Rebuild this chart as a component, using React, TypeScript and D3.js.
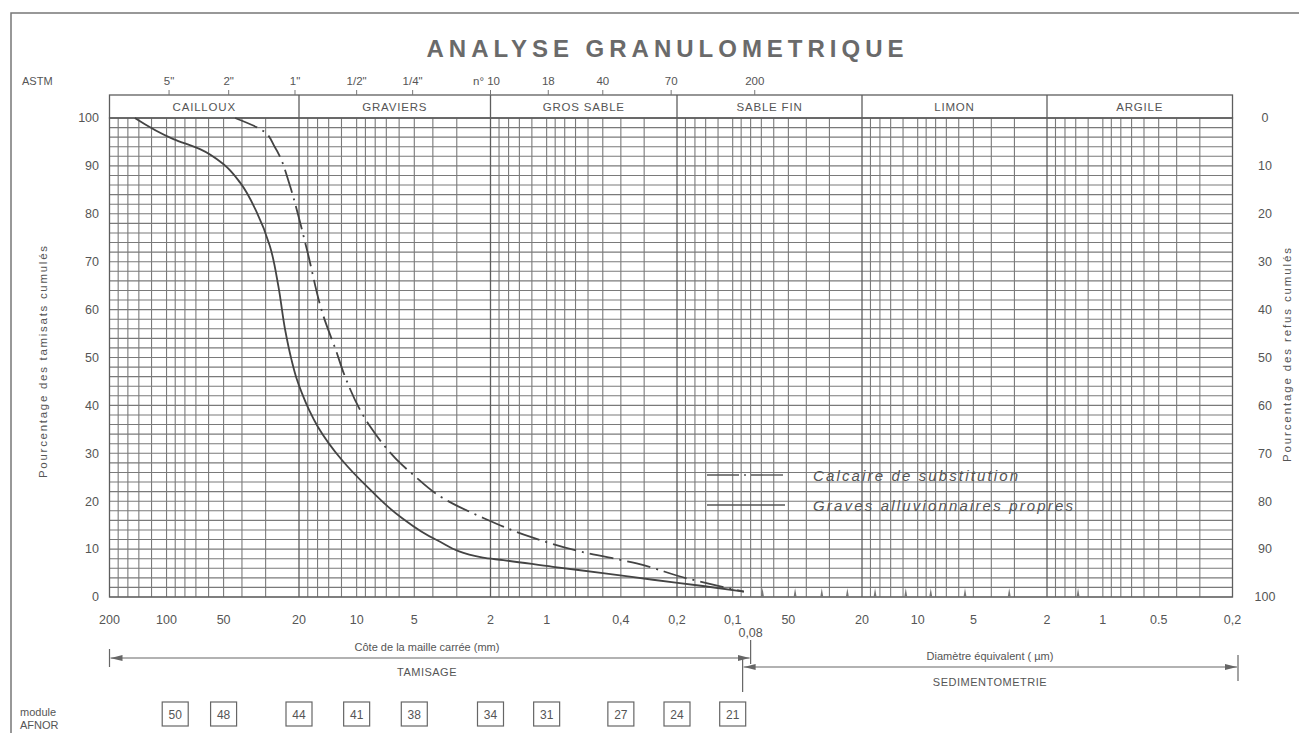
import React, { useEffect, useRef } from 'react';
import * as d3 from 'd3';

// decade boundaries of the log paper, in mm (200 mm down to 0,2 µm)
const decades = [200, 20, 2, 0.2, 0.02, 0.002, 0.0002];
const gridMantissa = [1, 1.2, 1.4, 1.6, 1.8, 2, 3, 4, 5, 6, 7, 8, 9];

const classes = ['CAILLOUX', 'GRAVIERS', 'GROS SABLE', 'SABLE FIN', 'LIMON', 'ARGILE'];

const astmLabels = ['5"', '2"', '1"', '1/2"', '1/4"', 'n° 10', '18', '40', '70', '200'];
const astmMm = [97, 47, 21, 10, 5.1, 2, 0.98, 0.5, 0.215, 0.076];

const sieveMm = [200, 100, 50, 20, 10, 5, 2, 1, 0.4, 0.2, 0.1];
const sieveLabels = ['200', '100', '50', '20', '10', '5', '2', '1', '0,4', '0,2', '0,1'];
const sedUm = [50, 20, 10, 5, 2, 1, 0.5, 0.2];
const sedLabels = ['50', '20', '10', '5', '2', '1', '0.5', '0,2'];

const percentTicks = [0, 10, 20, 30, 40, 50, 60, 70, 80, 90, 100];

const afnorModules = ['50', '48', '44', '41', '38', '34', '31', '27', '24', '21'];
const afnorMm = [90, 50, 20, 10, 5, 2, 1, 0.4, 0.2, 0.1];

// small reading marks along the bottom of the sedimentometry range (µm)
const sedMarksUm = [69, 46, 33, 24, 17, 11.6, 8.5, 5.55, 3.2, 1.36];

// Graves alluvionnaires propres (solid)
const gravesMm = [147, 92, 66.6, 50.2, 40.9, 33.4, 28.5, 25.7, 23.7, 21.9, 20.74, 19.29, 17.7, 15.92, 12, 8.5, 5.94, 3.82, 2.19, 1.71, 0.925, 0.5, 0.269, 0.145, 0.087];
const gravesPct = [100, 95.6, 93.5, 90.4, 86.5, 80.3, 73.3, 64.9, 55.9, 49.5, 46, 42.5, 39, 35.5, 28.7, 22.4, 16.8, 11.9, 8.2, 7.7, 6.3, 5, 3.6, 2.3, 1.1];

// Calcaire de substitution (dash-dot)
const calcaireMm = [43.5, 30.9, 26.8, 22.3, 20.6, 18.2, 14.9, 12.7, 11.7, 8.5, 6.18, 5.06, 3.53, 2.18, 1.23, 0.662, 0.329, 0.177, 0.087];
const calcairePct = [100, 97.3, 93.9, 85.8, 81, 72.6, 58.6, 51, 46.8, 35.6, 28.7, 25.5, 20.6, 16.5, 12.6, 9.5, 7, 3.9, 1.1];

const FONT = '"Liberation Sans", Arial, sans-serif';
const INK = '#555';
const GRID = '#7a7a7a';

export default function App() {
  const ref = useRef<SVGSVGElement>(null);

  useEffect(() => {
    const svg = d3.select(ref.current);
    svg.selectAll('*').remove();

    const x = d3.scaleLog().domain(decades).range([109.5, 299, 490.5, 677, 862, 1047, 1232.5]);
    const y = d3.scaleLinear().domain([0, 100]).range([597, 118]);
    const yRefus = d3.scaleLinear().domain([100, 0]).range([597, 118]);
    const [x0, x1] = [x(200), x(0.0002)];
    const headTop = 95;

    const defs = svg.append('defs');
    defs.append('marker').attr('id', 'arr').attr('viewBox', '0 0 12 6')
      .attr('refX', 12).attr('refY', 3).attr('markerWidth', 12).attr('markerHeight', 6)
      .attr('markerUnits', 'userSpaceOnUse').attr('orient', 'auto-start-reverse')
      .append('path').attr('d', 'M0,0L12,3L0,6Z').attr('fill', '#666');

    // outer frame of the sheet
    svg.append('path').attr('d', 'M11,733V13H1299').attr('fill', 'none').attr('stroke', '#777').attr('stroke-width', 1.5);

    // title
    svg.append('text').attr('x', 665).attr('y', 57).attr('text-anchor', 'middle')
      .attr('font-family', FONT).attr('font-size', 24).attr('font-weight', 'bold')
      .attr('fill', '#6a6a6a').attr('textLength', 477).attr('lengthAdjust', 'spacing')
      .text('ANALYSE GRANULOMETRIQUE');

    // grid
    const grid = svg.append('g').attr('stroke', GRID).attr('stroke-width', 1.1);
    d3.range(0, 101, 2).forEach((p) => {
      grid.append('line').attr('x1', x0).attr('x2', x1).attr('y1', y(p)).attr('y2', y(p));
    });
    const vLines: number[] = [];
    d3.range(-4, 3).forEach((k) => {
      gridMantissa.forEach((m) => {
        const v = +(m * Math.pow(10, k)).toPrecision(6);
        if (v >= 0.0002 && v <= 200 && !decades.includes(v)) vLines.push(v);
      });
    });
    vLines.forEach((v) => {
      grid.append('line').attr('x1', x(v)).attr('x2', x(v)).attr('y1', y(100)).attr('y2', y(0));
    });

    // header band with soil classes
    const head = svg.append('g').attr('stroke', '#5e5e5e').attr('stroke-width', 1.3).attr('fill', 'none');
    head.append('rect').attr('x', x0).attr('y', headTop).attr('width', x1 - x0).attr('height', y(100) - headTop);
    decades.slice(1, -1).forEach((d) => {
      head.append('line').attr('x1', x(d)).attr('x2', x(d)).attr('y1', headTop).attr('y2', y(0));
    });
    head.append('rect').attr('x', x0).attr('y', y(100)).attr('width', x1 - x0).attr('height', y(0) - y(100));
    classes.forEach((c, i) => {
      svg.append('text').attr('x', (x(decades[i]) + x(decades[i + 1])) / 2).attr('y', 111)
        .attr('text-anchor', 'middle').attr('font-family', FONT).attr('font-size', 11.5)
        .attr('letter-spacing', 0.8).attr('fill', INK).text(c);
    });

    // ASTM sieves
    svg.append('text').attr('x', 22).attr('y', 85).attr('font-family', FONT).attr('font-size', 11)
      .attr('fill', INK).text('ASTM');
    astmMm.forEach((v, i) => {
      svg.append('line').attr('x1', x(v)).attr('x2', x(v)).attr('y1', 90).attr('y2', headTop)
        .attr('stroke', '#777');
      svg.append('text').attr('x', x(v) - (i === 5 ? 4 : 0)).attr('y', 85).attr('text-anchor', 'middle')
        .attr('font-family', FONT).attr('font-size', 11.5).attr('fill', INK).text(astmLabels[i]);
    });

    // percentage axes
    percentTicks.forEach((p) => {
      svg.append('text').attr('x', 99).attr('y', y(p)).attr('dy', '0.35em').attr('text-anchor', 'end')
        .attr('font-family', FONT).attr('font-size', 12.5).attr('fill', INK).text(p);
      svg.append('text').attr('x', 1265).attr('y', yRefus(p)).attr('dy', '0.35em').attr('text-anchor', 'middle')
        .attr('font-family', FONT).attr('font-size', 12.5).attr('fill', INK).text(p);
    });
    svg.append('text').attr('transform', 'translate(47,362) rotate(-90)').attr('text-anchor', 'middle')
      .attr('font-family', FONT).attr('font-size', 11.5).attr('fill', INK)
      .attr('textLength', 232).attr('lengthAdjust', 'spacing').text('Pourcentage des tamisats cumulés');
    svg.append('text').attr('transform', 'translate(1291,355) rotate(-90)').attr('text-anchor', 'middle')
      .attr('font-family', FONT).attr('font-size', 11.5).attr('fill', INK)
      .attr('textLength', 214).attr('lengthAdjust', 'spacing').text('Pourcentage des refus cumulés');

    // size axis
    sieveMm.forEach((v, i) => {
      svg.append('text').attr('x', x(v)).attr('y', 624).attr('text-anchor', 'middle')
        .attr('font-family', FONT).attr('font-size', 12.5).attr('fill', INK).text(sieveLabels[i]);
    });
    sedUm.forEach((v, i) => {
      svg.append('text').attr('x', x(v / 1000)).attr('y', 624).attr('text-anchor', 'middle')
        .attr('font-family', FONT).attr('font-size', 12.5).attr('fill', INK).text(sedLabels[i]);
    });
    svg.append('text').attr('x', x(0.08)).attr('y', 637).attr('text-anchor', 'middle')
      .attr('font-family', FONT).attr('font-size', 12.5).attr('fill', INK).text('0,08');

    // sedimentometry reading marks
    sedMarksUm.forEach((v) => {
      const px = x(v / 1000);
      svg.append('path').attr('d', `M${px - 1.5},${y(0)}L${px},${y(0) - 9}L${px + 1.5},${y(0)}Z`).attr('fill', '#777');
    });

    // tamisage / sedimentometrie arrows
    const xs = x(0.08);
    const xsed = xs - 8;
    const bottom = svg.append('g').attr('stroke', '#666').attr('stroke-width', 1.2);
    bottom.append('line').attr('x1', x0).attr('x2', x0).attr('y1', 649).attr('y2', 667);
    bottom.append('line').attr('x1', xs).attr('x2', xs).attr('y1', 640).attr('y2', 664);
    bottom.append('line').attr('x1', x0 + 1).attr('x2', xs - 1).attr('y1', 658).attr('y2', 658)
      .attr('marker-start', 'url(#arr)').attr('marker-end', 'url(#arr)');
    bottom.append('line').attr('x1', xsed).attr('x2', xsed).attr('y1', 659).attr('y2', 692);
    bottom.append('line').attr('x1', 1238).attr('x2', 1238).attr('y1', 655).attr('y2', 681);
    bottom.append('line').attr('x1', xsed + 1).attr('x2', 1237).attr('y1', 667).attr('y2', 667)
      .attr('marker-start', 'url(#arr)').attr('marker-end', 'url(#arr)');

    const small = (tx: number, ty: number, s: string) =>
      svg.append('text').attr('x', tx).attr('y', ty).attr('text-anchor', 'middle')
        .attr('font-family', FONT).attr('font-size', 11).attr('fill', INK).text(s);
    small(427, 651, 'Côte de la maille carrée (mm)');
    small(427, 676, 'TAMISAGE').attr('letter-spacing', 0.5);
    small(990, 660, 'Diamètre équivalent ( µm)');
    small(990, 686, 'SEDIMENTOMETRIE').attr('letter-spacing', 0.5);

    // AFNOR modules
    svg.append('text').attr('x', 20).attr('y', 716).attr('font-family', FONT).attr('font-size', 11)
      .attr('fill', INK).text('module');
    svg.append('text').attr('x', 20).attr('y', 729).attr('font-family', FONT).attr('font-size', 11)
      .attr('fill', INK).text('AFNOR');
    afnorMm.forEach((v, i) => {
      svg.append('rect').attr('x', x(v) - 13).attr('y', 702).attr('width', 26).attr('height', 24)
        .attr('fill', 'none').attr('stroke', '#666').attr('stroke-width', 1.2);
      svg.append('text').attr('x', x(v)).attr('y', 719).attr('text-anchor', 'middle')
        .attr('font-family', FONT).attr('font-size', 12).attr('fill', INK).text(afnorModules[i]);
    });

    // curves
    const line = d3.line<[number, number]>()
      .x((d) => x(d[0])).y((d) => y(d[1])).curve(d3.curveMonotoneY);
    svg.append('path').attr('d', line(d3.zip(gravesMm, gravesPct) as [number, number][]))
      .attr('fill', 'none').attr('stroke', '#444').attr('stroke-width', 1.8);
    svg.append('path').attr('d', line(d3.zip(calcaireMm, calcairePct) as [number, number][]))
      .attr('fill', 'none').attr('stroke', '#444').attr('stroke-width', 1.8)
      .attr('stroke-dasharray', '24 6 2 6');

    // legend
    const leg = svg.append('g');
    leg.append('line').attr('x1', 707).attr('x2', 785).attr('y1', 475).attr('y2', 475)
      .attr('stroke', '#555').attr('stroke-width', 1.4).attr('stroke-dasharray', '32 5 2 5');
    leg.append('line').attr('x1', 707).attr('x2', 785).attr('y1', 505).attr('y2', 505)
      .attr('stroke', '#555').attr('stroke-width', 1.4);
    leg.append('text').attr('x', 813).attr('y', 481).attr('font-family', FONT).attr('font-style', 'italic')
      .attr('font-size', 15).attr('fill', INK).attr('textLength', 205).attr('lengthAdjust', 'spacing')
      .text('Calcaire de substitution');
    leg.append('text').attr('x', 813).attr('y', 511).attr('font-family', FONT).attr('font-style', 'italic')
      .attr('font-size', 15).attr('fill', INK).attr('textLength', 260).attr('lengthAdjust', 'spacing')
      .text('Graves alluvionnaires propres');
  }, []);

  return (
    <svg ref={ref} width={1299} height={733}
      style={{ position: 'absolute', left: 0, top: 0, background: '#fff' }} />
  );
}
